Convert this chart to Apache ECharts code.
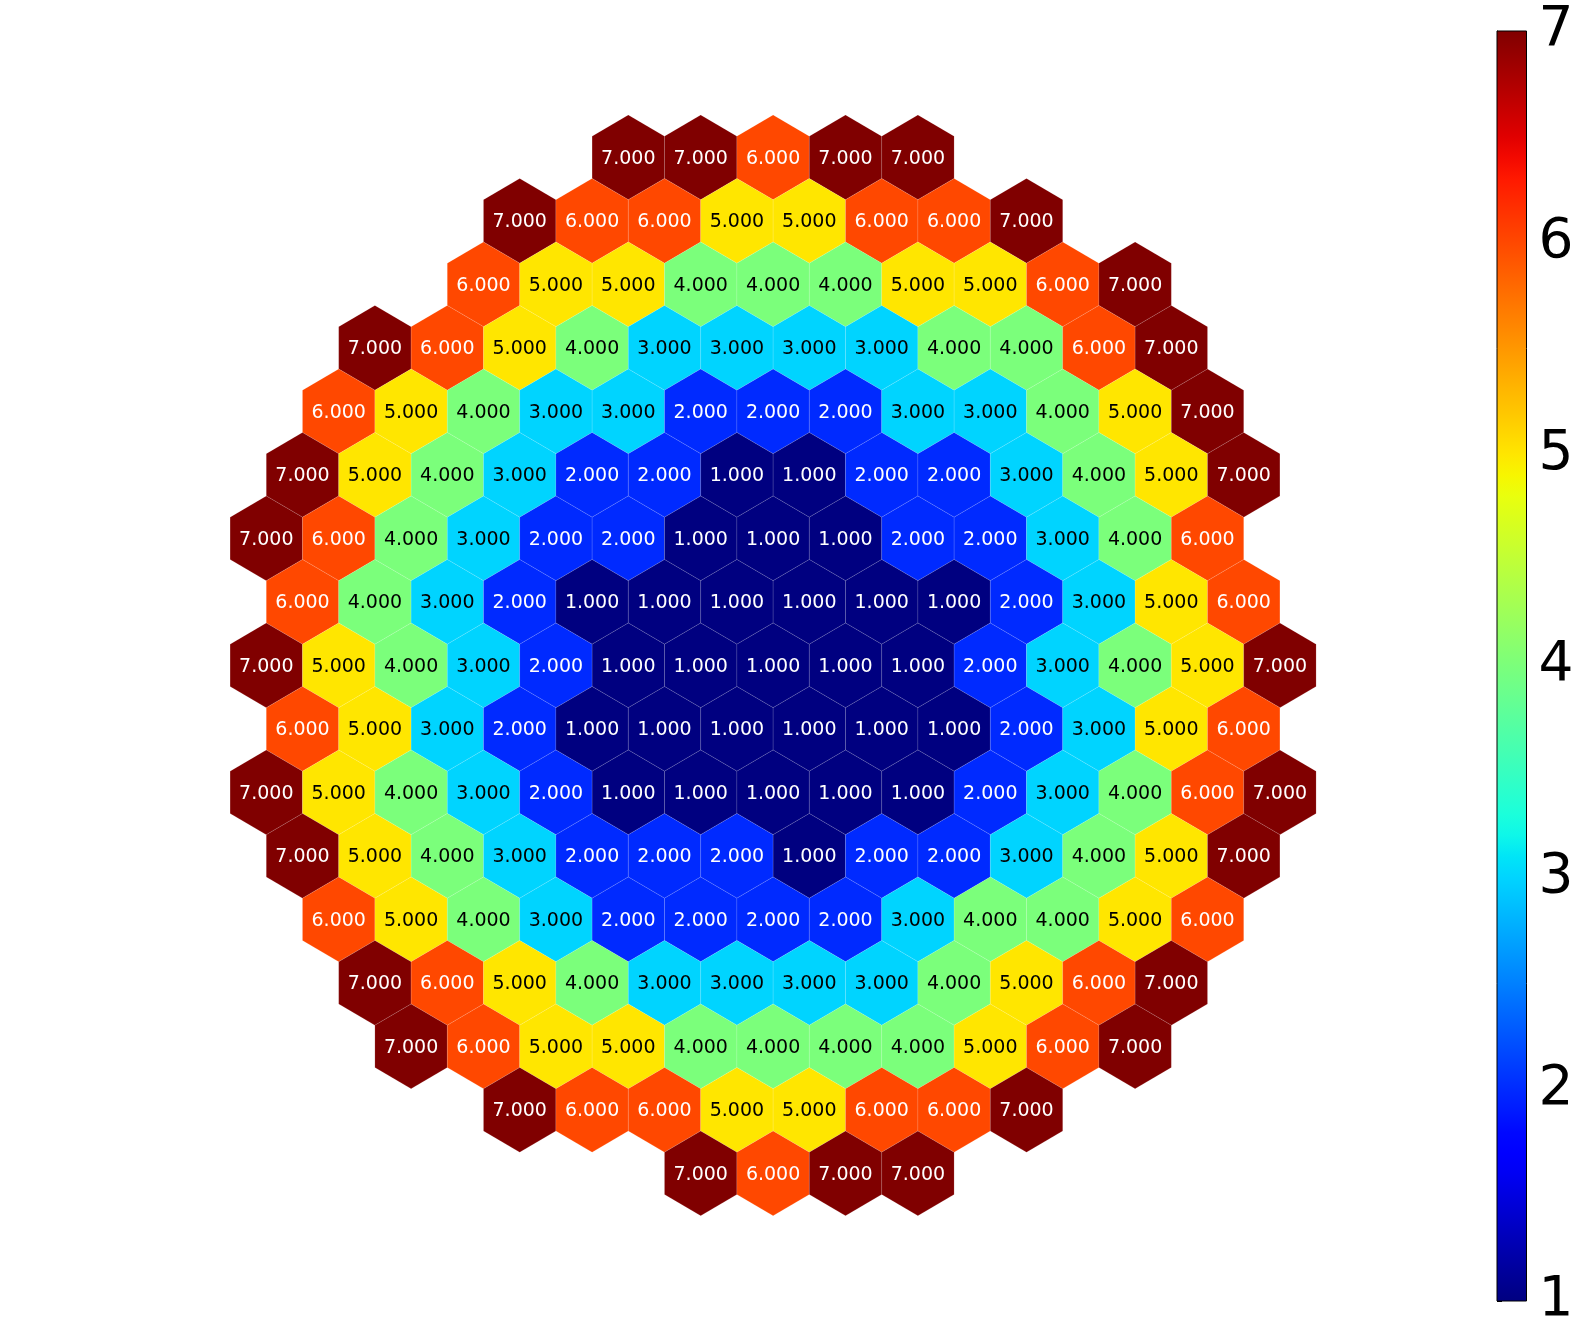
<!DOCTYPE html>
<html>
<head>
<meta charset="utf-8">
<script src="https://cdn.jsdelivr.net/npm/echarts@6/dist/echarts.min.js"></script>
<style>html,body{margin:0;padding:0;background:#fff;}#chart{width:1580px;height:1344px;}</style>
</head>
<body>
<div id="chart"></div>
<script>
// Starting half-column index of each hex row (top to bottom)
const rowStarts = [10, 7, 6, 3, 2, 1, 0, 1, 0, 1, 0, 1, 2, 3, 4, 7, 12];
// Cell values of each hex row
const rowValues = [
  [7,7,6,7,7],
  [7,6,6,5,5,6,6,7],
  [6,5,5,4,4,4,5,5,6,7],
  [7,6,5,4,3,3,3,3,4,4,6,7],
  [6,5,4,3,3,2,2,2,3,3,4,5,7],
  [7,5,4,3,2,2,1,1,2,2,3,4,5,7],
  [7,6,4,3,2,2,1,1,1,2,2,3,4,6],
  [6,4,3,2,1,1,1,1,1,1,2,3,5,6],
  [7,5,4,3,2,1,1,1,1,1,2,3,4,5,7],
  [6,5,3,2,1,1,1,1,1,1,2,3,5,6],
  [7,5,4,3,2,1,1,1,1,1,2,3,4,6,7],
  [7,5,4,3,2,2,2,1,2,2,3,4,5,7],
  [6,5,4,3,2,2,2,2,3,4,4,5,6],
  [7,6,5,4,3,3,3,3,4,5,6,7],
  [7,6,5,5,4,4,4,4,5,6,7],
  [7,6,6,5,5,6,6,7],
  [7,6,7,7]
];
const colorbarTicks = [1, 2, 3, 4, 5, 6, 7];
const vMin = 1, vMax = 7;

function interp(stops, t) {
  for (let i = 1; i < stops.length; i++) {
    if (t <= stops[i][0]) {
      const a = stops[i - 1], b = stops[i];
      return a[1] + (b[1] - a[1]) * (t - a[0]) / (b[0] - a[0]);
    }
  }
  return stops[stops.length - 1][1];
}
function jet(v) {
  const t = Math.max(0, Math.min(1, (v - vMin) / (vMax - vMin)));
  const r = interp([[0,0],[0.35,0],[0.66,1],[0.89,1],[1,0.5]], t);
  const g = interp([[0,0],[0.125,0],[0.375,1],[0.64,1],[0.91,0],[1,0]], t);
  const b = interp([[0,0.5],[0.11,1],[0.34,1],[0.65,0],[1,0]], t);
  return 'rgb(' + Math.round(r*255) + ',' + Math.round(g*255) + ',' + Math.round(b*255) + ')';
}

const hexData = [];
rowValues.forEach((vals, r) => {
  vals.forEach((v, i) => hexData.push([rowStarts[r] + 2 * i, r, v]));
});

const chart = echarts.init(document.getElementById('chart'));
const FONT = 'DejaVu Sans';

const gradStops = [];
for (let i = 0; i <= 60; i++) {
  const t = i / 60;
  gradStops.push({ offset: t, color: jet(vMax - t * (vMax - vMin)) });
}

chart.setOption({
  animation: false,
  backgroundColor: '#fff',
  grid: [
    { left: 230.1, width: 1086, top: 93.8, height: 1143, show: false },
    { left: 1497, width: 29.5, top: 31, height: 1270, show: false }
  ],
  xAxis: [
    { gridIndex: 0, type: 'value', min: -1, max: 29, show: false },
    { gridIndex: 1, type: 'value', min: 0, max: 1, show: false }
  ],
  yAxis: [
    { gridIndex: 0, type: 'value', min: -1, max: 17, inverse: true, show: false },
    {
      gridIndex: 1, type: 'value', min: vMin, max: vMax, interval: 1, position: 'right',
      axisLine: { show: true, lineStyle: { color: '#000', width: 1 } },
      axisTick: { show: true, length: 5, lineStyle: { color: '#000', width: 1 } },
      splitLine: { show: false },
      axisLabel: { color: '#000', fontSize: 55, fontFamily: FONT, margin: 12,
        formatter: v => colorbarTicks.includes(v) ? String(v) : '' }
    }
  ],
  series: [
    {
      type: 'custom',
      xAxisIndex: 0, yAxisIndex: 0,
      data: hexData,
      renderItem: function (params, api) {
        const x = api.value(0), y = api.value(1), v = api.value(2);
        const pts = [
          api.coord([x, y - 2/3]),
          api.coord([x + 1, y - 1/3]),
          api.coord([x + 1, y + 1/3]),
          api.coord([x, y + 2/3]),
          api.coord([x - 1, y + 1/3]),
          api.coord([x - 1, y - 1/3])
        ];
        const c = api.coord([x, y]);
        const fill = jet(v);
        const dark = (v <= 2 || v >= 6);
        return {
          type: 'group',
          children: [
            { type: 'polygon', shape: { points: pts },
              style: { fill: fill, stroke: 'rgba(255,255,255,0.18)', lineWidth: 0.6 } },
            { type: 'text', x: c[0], y: c[1] + 1.5,
              style: { text: v.toFixed(3), fill: dark ? '#fff' : '#000',
                font: '19px "' + FONT + '"', align: 'center', verticalAlign: 'middle' } }
          ]
        };
      }
    },
    {
      type: 'custom',
      xAxisIndex: 1, yAxisIndex: 1,
      data: [[0, vMin, 1, vMax]],
      silent: true,
      renderItem: function (params, api) {
        const p0 = api.coord([api.value(0), api.value(3)]);
        const p1 = api.coord([api.value(2), api.value(1)]);
        return {
          type: 'rect',
          shape: { x: p0[0], y: p0[1], width: p1[0] - p0[0], height: p1[1] - p0[1] },
          style: {
            fill: new echarts.graphic.LinearGradient(0, 0, 0, 1, gradStops),
            stroke: '#000', lineWidth: 1
          }
        };
      }
    }
  ]
});
</script>
</body>
</html>
